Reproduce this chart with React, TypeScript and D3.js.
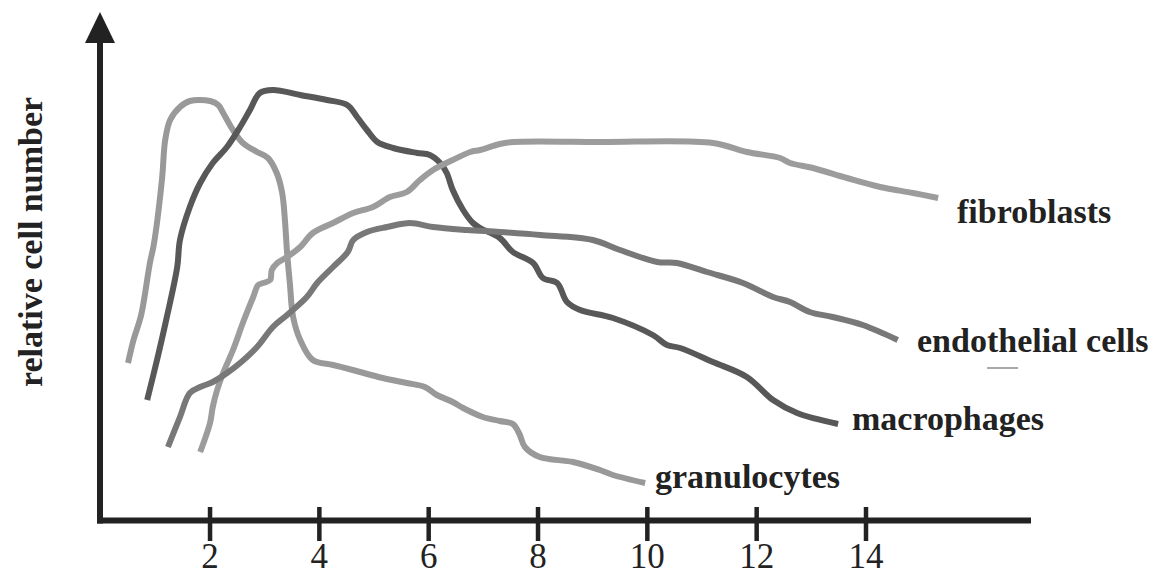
import React from "react";
import * as d3 from "d3";

type Pt = [number, number];

// time axis (days) vs relative cell number (0..100)
const granulocytes: Pt[] = [
  [0.5, 31.4], [0.6, 36.0], [0.74, 41.0], [0.9, 51.4], [0.97, 55.0], [1.12, 68.0], [1.18, 76.0],
  [1.27, 80.0], [1.45, 82.6], [1.63, 83.8], [2.0, 83.8], [2.15, 83.0], [2.24, 81.4], [2.42, 78.0],
  [2.6, 75.4], [2.86, 73.6], [3.06, 72.4], [3.22, 69.4], [3.32, 65.4], [3.37, 60.0], [3.41, 53.4],
  [3.46, 47.4], [3.52, 40.6], [3.65, 36.0], [3.88, 32.0], [4.25, 31.0], [4.61, 30.0], [5.16, 28.4],
  [5.6, 27.4], [5.93, 26.6], [6.15, 25.0], [6.44, 23.6], [6.63, 22.4], [6.99, 20.6], [7.3, 19.8],
  [7.54, 19.2], [7.66, 17.2], [7.76, 14.6], [8.03, 12.6], [8.64, 11.6], [9.13, 10.0], [9.37, 9.0],
  [9.96, 7.4],
];

const macrophages: Pt[] = [
  [0.85, 24.0], [1.03, 32.0], [1.21, 40.6], [1.4, 50.6], [1.45, 56.0], [1.63, 62.6], [1.82, 67.4],
  [2.05, 71.4], [2.31, 74.6], [2.55, 78.6], [2.73, 82.0], [2.91, 85.4], [3.15, 86.0], [3.65, 85.0],
  [4.14, 84.0], [4.51, 83.0], [4.69, 80.6], [4.87, 78.0], [5.06, 75.6], [5.35, 74.4], [5.79, 73.4],
  [6.02, 73.0], [6.21, 71.4], [6.33, 69.4], [6.44, 66.0], [6.63, 62.0], [6.81, 59.4], [6.94, 58.4],
  [7.3, 56.4], [7.54, 53.6], [7.91, 51.4], [8.09, 48.4], [8.35, 47.4], [8.53, 43.6], [8.77, 42.0],
  [9.37, 40.4], [10.1, 37.0], [10.36, 35.0], [10.6, 34.4], [11.2, 31.6], [11.82, 28.6],
  [12.3, 24.0], [12.74, 21.4], [13.49, 19.2],
];

const fibroblasts: Pt[] = [
  [1.82, 13.6], [2.0, 19.4], [2.05, 22.6], [2.13, 26.0], [2.24, 29.4], [2.42, 34.0], [2.6, 39.4],
  [2.79, 44.6], [2.88, 47.0], [2.97, 47.4], [3.1, 48.0], [3.13, 50.0], [3.23, 51.4], [3.41, 52.6],
  [3.65, 54.6], [3.88, 57.4], [4.25, 59.4], [4.62, 61.4], [4.98, 62.6], [5.29, 64.6], [5.6, 65.6],
  [5.84, 68.0], [6.08, 70.0], [6.44, 72.0], [6.76, 73.6], [6.94, 74.0], [7.3, 75.2], [7.54, 75.6],
  [9.13, 75.6], [11.2, 75.4], [11.82, 73.6], [12.43, 72.4], [12.61, 71.4], [13.03, 70.4],
  [13.65, 68.4], [14.26, 66.6], [14.86, 65.4], [15.32, 64.4],
];

const endothelial: Pt[] = [
  [1.23, 14.6], [1.45, 20.6], [1.63, 25.4], [1.82, 26.6], [2.05, 27.6], [2.31, 29.4], [2.55, 31.4],
  [2.86, 34.6], [3.15, 38.6], [3.41, 41.0], [3.77, 44.6], [3.96, 47.4], [4.25, 50.6], [4.52, 53.6],
  [4.62, 56.0], [4.87, 57.6], [5.24, 58.6], [5.66, 59.4], [6.08, 58.6], [6.7, 58.0], [7.3, 57.6],
  [8.04, 57.0], [9.0, 56.0], [9.5, 54.0], [10.18, 51.6], [10.54, 51.4], [11.09, 49.6],
  [11.75, 47.4], [12.3, 44.6], [12.61, 43.6], [12.97, 41.6], [13.39, 40.6], [13.94, 39.0],
  [14.58, 36.0],
];

const seriesNames = ["granulocytes", "macrophages", "fibroblasts", "endothelial cells"];
const seriesData = [granulocytes, macrophages, fibroblasts, endothelial];
const seriesColors = ["#999999", "#585858", "#9c9c9c", "#787878"];

const xTicks = [2, 4, 6, 8, 10, 12, 14];
const yLabel = "relative cell number";

export default function App() {
  const W = 1159;
  const H = 577;
  const x = d3.scaleLinear().domain([0, 14]).range([100.7, 866]);
  const y = d3.scaleLinear().domain([0, 100]).range([520, 20]);
  const line = d3
    .line<Pt>()
    .x((d) => x(d[0]))
    .y((d) => y(d[1]))
    .curve(d3.curveCatmullRom.alpha(0.5));

  const serif = "'Liberation Serif', 'Times New Roman', Times, serif";
  const axisY = y(0) + 0.5;
  const axisX = 100;

  const labelPos: [number, number][] = [
    [655, 488],
    [852, 430],
    [957, 223],
    [917, 352],
  ];

  return (
    <svg
      width={W}
      height={H}
      style={{ position: "absolute", left: 0, top: 0, background: "#fff" }}
    >
      <rect x={0} y={0} width={W} height={H} fill="#fff" />
      {seriesData.map((d, i) => (
        <path
          key={seriesNames[i]}
          d={line(d) || ""}
          fill="none"
          stroke={seriesColors[i]}
          strokeWidth={6}
          strokeLinejoin="round"
          strokeLinecap="butt"
        />
      ))}
      <line x1={axisX} x2={axisX} y1={axisY + 3} y2={40} stroke="#222" strokeWidth={6} />
      <path d={`M${axisX},12 L${axisX + 15},43 L${axisX - 15},43 Z`} fill="#222" />
      <line x1={axisX - 3} x2={1031} y1={axisY} y2={axisY} stroke="#222" strokeWidth={6} />
      {xTicks.map((t) => (
        <g key={t}>
          <line x1={x(t)} x2={x(t)} y1={507} y2={541} stroke="#222" strokeWidth={4.5} />
          <text
            x={x(t)}
            y={568}
            textAnchor="middle"
            fontFamily={serif}
            fontSize={35}
            fill="#222"
          >
            {t}
          </text>
        </g>
      ))}
      <text
        transform="translate(42,242) rotate(-90)"
        textAnchor="middle"
        fontFamily={serif}
        fontWeight="bold"
        fontSize={34}
        fill="#222"
      >
        {yLabel}
      </text>
      {seriesNames.map((n, i) => (
        <text
          key={n}
          x={labelPos[i][0]}
          y={labelPos[i][1]}
          fontFamily={serif}
          fontWeight="bold"
          fontSize={34}
          fill="#222"
        >
          {n}
        </text>
      ))}
      <line x1={987} x2={1018} y1={368} y2={368} stroke="#aaa" strokeWidth={2} />
    </svg>
  );
}
